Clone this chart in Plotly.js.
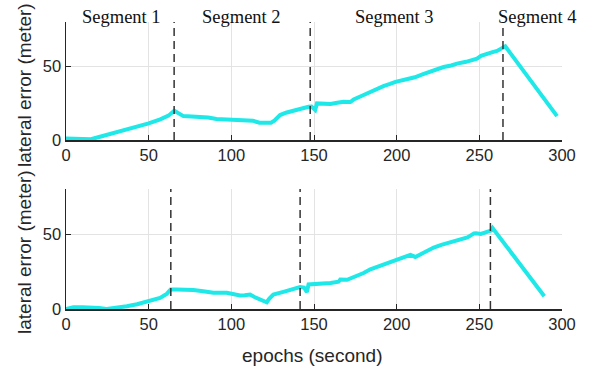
<!DOCTYPE html>
<html>
<head>
<meta charset="utf-8">
<script src="https://cdn.plot.ly/plotly-3.0.1.min.js"></script>
<style>html,body{margin:0;padding:0;background:#fff}#chart{width:592px;height:373px}</style>
</head>
<body>
<div id="chart"></div>
<script>
// Top panel series
const topX = [0, 3, 10, 15, 20, 25, 30, 37, 44, 50, 57, 62, 65.5, 68, 71, 76, 81, 86, 91, 96, 101, 107, 113, 117, 121, 124, 126, 129.5, 133, 136, 141.6, 146.7, 148.5, 150.7, 151.8, 156, 160, 164, 168, 172, 174, 179, 184, 188, 192, 196, 199.3, 206, 211, 216, 222, 228.4, 233, 236.5, 242, 248.6, 251, 254.7, 258, 260.7, 263, 265.7, 297];
const topY = [1, 0.8, 0.2, 0.5, 2, 3.5, 5, 7.8, 9.5, 11.3, 14, 16.5, 19.8, 18, 16.2, 16, 15.8, 15.2, 14.2, 14, 13.5, 13.3, 13.1, 11.7, 11.9, 11.7, 13.1, 16.9, 18.5, 19.5, 21.4, 22.5, 22.7, 20.3, 24.8, 24.5, 24.4, 25.2, 25.9, 25.7, 27.5, 30, 32.7, 34.5, 36.5, 38, 39.4, 41.2, 42.5, 44.6, 47, 49.5, 50.5, 51.8, 53, 55.2, 57, 58.6, 59.6, 60.4, 61.5, 63.5, 16.2];
// Bottom panel series
const botX = [0, 2, 4.4, 10, 16.5, 20, 24.6, 30, 36.8, 43, 49.7, 54, 56.9, 60.9, 63.3, 66.9, 72, 77, 83, 89.1, 97.2, 101, 105.3, 108, 111.3, 114, 117.4, 121.4, 123, 125.4, 131.5, 137.6, 141.6, 144, 145.7, 146.7, 151, 155.8, 160, 164.9, 165.9, 170, 176, 180, 184.1, 190, 196.2, 200.2, 205, 208.3, 211.3, 216, 222.4, 227, 232.7, 238, 242.8, 246.8, 248, 250.9, 254, 257, 258, 289.3];
const botY = [0, 0.8, 1.1, 1.2, 1.1, 0.6, 0, 0.6, 1.8, 3.2, 5.2, 6.5, 7.4, 10.1, 13, 13, 13.1, 12.6, 11.8, 10.8, 10.8, 9.8, 9, 9.2, 9.6, 8, 6.3, 4.5, 7, 9.6, 11.4, 13.7, 14.6, 14.3, 11.2, 16.4, 16.6, 16.8, 17.4, 18.2, 19.6, 19.5, 22, 24, 26.5, 28.8, 30.9, 32.5, 34.5, 36.1, 34.7, 37.5, 41, 42.8, 44.4, 46, 47.7, 50.4, 50.5, 50, 50.8, 52.2, 54, 8.5];
// Segment boundaries (dashed lines)
const topBounds = [65.4, 147.7, 264.3];
const botBounds = [63.4, 141.6, 256.7];
// Segment labels
const segLabels = ["Segment 1", "Segment 2", "Segment 3", "Segment 4"];
const segLabelX = [33.3, 105.9, 198.8, 284.9];
const yTitle = "lateral error (meter)";
const xTitle = "epochs (second)";

const lineColor = '#1ee8e8';
const axisColor = '#262626';
const tickFont = {family: 'Liberation Sans, Arial, sans-serif', size: 16.5, color: '#262626'};

const traces = [
  {x: topX, y: topY, xaxis: 'x', yaxis: 'y', mode: 'lines', line: {color: lineColor, width: 4}, hoverinfo: 'skip'},
  {x: botX, y: botY, xaxis: 'x2', yaxis: 'y2', mode: 'lines', line: {color: lineColor, width: 4}, hoverinfo: 'skip'}
];

function xax(anchor) {
  return {domain: [66/592, 562/592], range: [0, 300], anchor: anchor, tickvals: [0,50,100,150,200,250,300],
    ticks: 'inside', ticklen: 5, tickwidth: 1, tickcolor: axisColor, showline: true, linecolor: axisColor, linewidth: 1.5,
    showgrid: true, gridcolor: '#e3e3e3', gridwidth: 1, zeroline: false, tickfont: tickFont, fixedrange: true};
}
function yax(anchor, dom) {
  return {domain: dom, range: [0, 80], anchor: anchor, tickvals: [0, 50],
    ticks: 'inside', ticklen: 5, tickwidth: 1, tickcolor: axisColor, showline: true, linecolor: axisColor, linewidth: 1.5,
    showgrid: true, gridcolor: '#e3e3e3', gridwidth: 1, zeroline: false, tickfont: tickFont, fixedrange: true};
}

const shapes = [];
topBounds.forEach(v => shapes.push({type: 'line', xref: 'x', yref: 'y', x0: v, x1: v, y0: 0, y1: 80,
  line: {color: '#333', width: 1.5, dash: '8px,5px'}}));
botBounds.forEach(v => shapes.push({type: 'line', xref: 'x2', yref: 'y2', x0: v, x1: v, y0: 0, y1: 80,
  line: {color: '#333', width: 1.5, dash: '8px,5px'}}));

const annotations = [];
segLabels.forEach((t, i) => annotations.push({text: t, x: segLabelX[i], xref: 'x', y: 1 - 17/373, yref: 'paper',
  showarrow: false, xanchor: 'center', yanchor: 'middle', font: {family: 'Liberation Serif, Times New Roman, serif', size: 18.5, color: '#111'}}));
annotations.push({text: yTitle, textangle: -90, x: 24/592, xref: 'paper', y: 1 - 85/373, yref: 'paper', showarrow: false,
  xanchor: 'center', yanchor: 'middle', font: {family: 'Liberation Sans, Arial, sans-serif', size: 19, color: '#262626'}});
annotations.push({text: yTitle, textangle: -90, x: 24/592, xref: 'paper', y: 1 - 252/373, yref: 'paper', showarrow: false,
  xanchor: 'center', yanchor: 'middle', font: {family: 'Liberation Sans, Arial, sans-serif', size: 19, color: '#262626'}});
annotations.push({text: xTitle, x: 312/592, xref: 'paper', y: 1 - 355/373, yref: 'paper', showarrow: false,
  xanchor: 'center', yanchor: 'middle', font: {family: 'Liberation Sans, Arial, sans-serif', size: 19, color: '#262626'}});

const layout = {
  width: 592, height: 373, margin: {l: 0, r: 0, t: 0, b: 0},
  paper_bgcolor: '#fff', plot_bgcolor: '#fff', showlegend: false,
  xaxis: xax('y'), yaxis: yax('x', [1 - 140/373, 1 - 22/373]),
  xaxis2: xax('y2'), yaxis2: yax('x2', [1 - 309/373, 1 - 189/373]),
  shapes: shapes, annotations: annotations
};

Plotly.newPlot('chart', traces, layout, {staticPlot: true, displayModeBar: false});
</script>
</body>
</html>
